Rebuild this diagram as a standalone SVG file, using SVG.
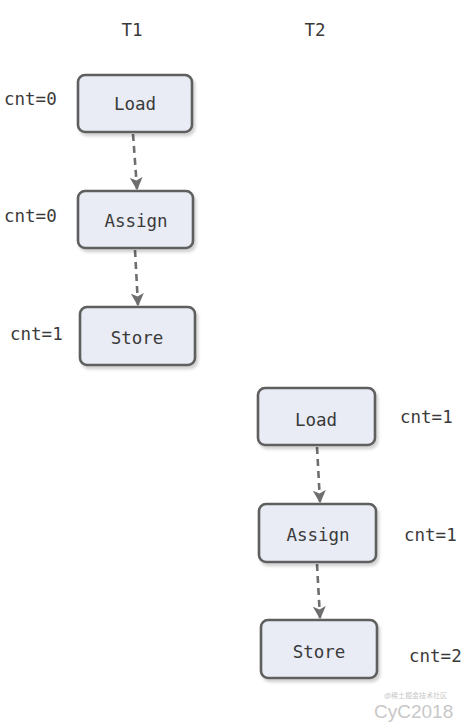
<svg xmlns="http://www.w3.org/2000/svg" width="475" height="724" viewBox="0 0 475 724">
<defs>
<style>
.box{fill:#e9ecf5;stroke:#5f5f5f;stroke-width:2.6;filter:url(#sh)}
.lbl{font-family:"DejaVu Sans Mono","Liberation Mono",monospace;font-size:17.5px;fill:#3a3a3a;text-anchor:middle}
.cnt{font-family:"DejaVu Sans Mono","Liberation Mono",monospace;font-size:17.5px;fill:#3a3a3a}
.hdr{font-family:"DejaVu Sans Mono","Liberation Mono",monospace;font-size:17.5px;fill:#3a3a3a;text-anchor:middle}
.edge{fill:none;stroke:#6e6e6e;stroke-width:2.6;stroke-dasharray:7 5;marker-end:url(#ah)}
.wm{font-family:"Liberation Sans","Noto Sans CJK SC",sans-serif;fill:#c8c8c8}
</style>
<filter id="sh" x="-10%" y="-10%" width="130%" height="140%">
<feDropShadow dx="2" dy="3" stdDeviation="1.5" flood-color="#000" flood-opacity="0.18"/>
</filter>
<marker id="ah" viewBox="0 0 10 10" refX="9" refY="5" markerWidth="5" markerHeight="5" orient="auto" markerUnits="strokeWidth">
<path d="M0,0 L10,5 L0,10 L2.5,5 z" fill="#6e6e6e"/>
</marker>
</defs>
<text class="hdr" x="132" y="36">T1</text>
<text class="hdr" x="315" y="36">T2</text>
<g id="connectors">
<path class="edge" d="M133,134 L137,189"/>
<path class="edge" d="M135,250 L138,305"/>
<path class="edge" d="M317,447 L320,502"/>
<path class="edge" d="M317,564 L320,618"/>
</g>
<g id="t1-load">
<rect class="box" x="78" y="75" width="114" height="57" rx="7"/>
<text class="lbl" x="135" y="110">Load</text>
</g>
<g id="t1-assign">
<rect class="box" x="78" y="191" width="115" height="57" rx="7"/>
<text class="lbl" x="136" y="227">Assign</text>
</g>
<g id="t1-store">
<rect class="box" x="80" y="307" width="115" height="58" rx="7"/>
<text class="lbl" x="137" y="344">Store</text>
</g>
<g id="t2-load">
<rect class="box" x="258" y="388" width="117" height="57" rx="7"/>
<text class="lbl" x="316" y="426">Load</text>
</g>
<g id="t2-assign">
<rect class="box" x="259" y="504" width="117" height="58" rx="7"/>
<text class="lbl" x="318" y="541">Assign</text>
</g>
<g id="t2-store">
<rect class="box" x="261" y="620" width="116" height="58" rx="7"/>
<text class="lbl" x="319" y="658">Store</text>
</g>
<text class="cnt" x="4" y="105">cnt=0</text>
<text class="cnt" x="4" y="222">cnt=0</text>
<text class="cnt" x="10" y="340">cnt=1</text>
<text class="cnt" x="400" y="423">cnt=1</text>
<text class="cnt" x="404" y="541">cnt=1</text>
<text class="cnt" x="409" y="662">cnt=2</text>
<text class="wm" x="384" y="698" font-size="7">@稀土掘金技术社区</text>
<text class="wm" x="374" y="718" font-size="19">CyC2018</text>
</svg>
